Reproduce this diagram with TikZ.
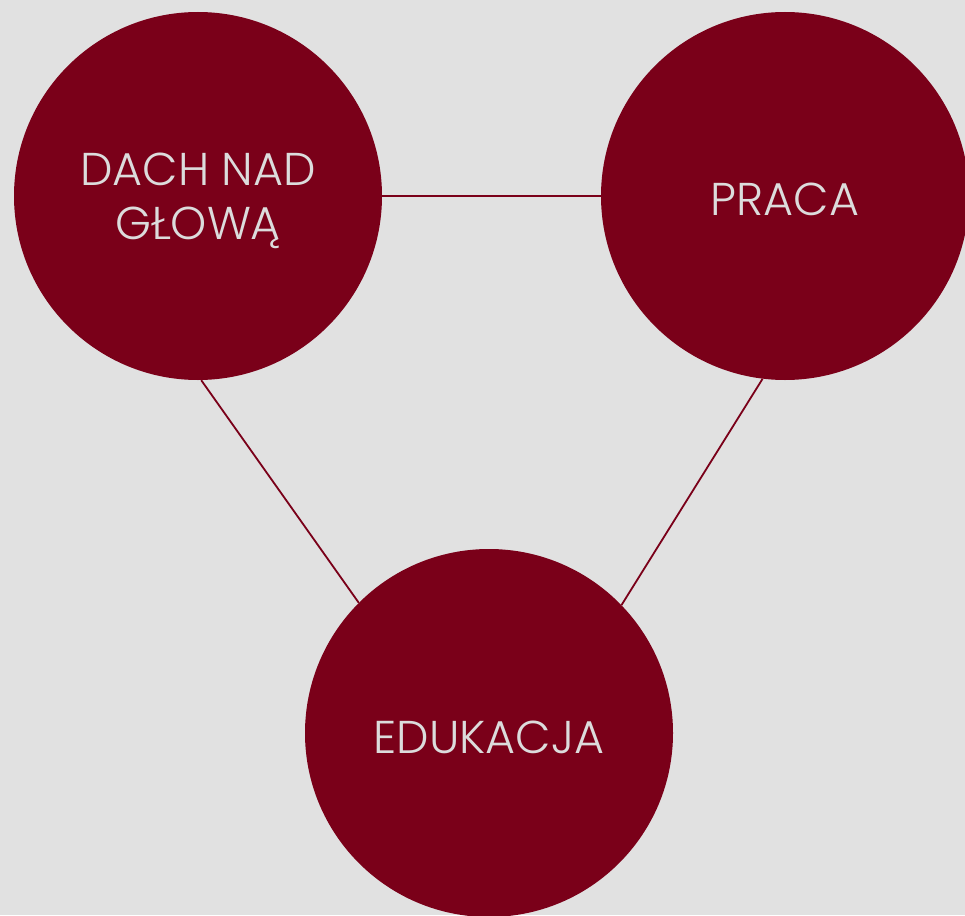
\documentclass[tikz,border=0pt]{standalone}
\usepackage{fontspec}
\setmainfont{Poppins}[UprightFont=* Light]
\definecolor{bgc}{HTML}{E1E1E1}
\definecolor{wine}{HTML}{7A0019}
\definecolor{txt}{HTML}{DCDCDC}
\begin{document}
\begin{tikzpicture}[x=1pt,y=-1pt,
  bubble/.style={circle,fill=wine,minimum size=368pt,inner sep=0pt},
  lbl/.style={text=txt,font=\fontsize{46}{54}\selectfont,align=center},
  link/.style={draw=wine,line width=1.8pt}]
\fill[bgc] (0,0) rectangle (965,915);
\useasboundingbox (0,0) rectangle (965,915);
\node[bubble] (dach) at (198,196) {};
\node[bubble] (praca) at (785,196) {};
\node[bubble] (edu) at (489,733) {};
\node[lbl] (dachT) at (198,201) {DACH NAD\\GŁOWĄ};
\node[lbl] (pracaT) at (785,199) {PRACA};
\node[lbl] (eduT) at (489,737) {EDUKACJA};
\draw[link] (dach.east) -- (praca.west);
\draw[link] (dach.-89) -- (edu.135.4);
\draw[link] (praca.-97.8) -- (edu.44.8);
\end{tikzpicture}
\end{document}
